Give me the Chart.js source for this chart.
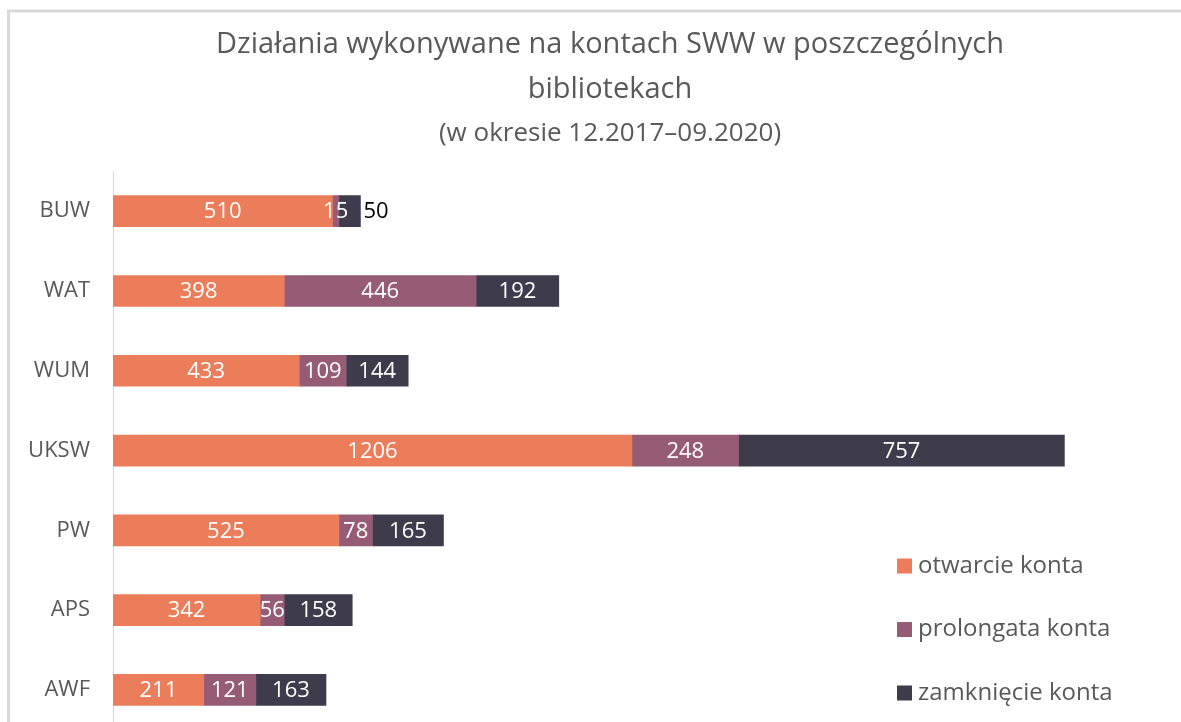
<!DOCTYPE html>
<html>
<head>
<meta charset="utf-8">
<script src="https://cdn.jsdelivr.net/npm/chart.js@4.4.1/dist/chart.umd.min.js"></script>
<style>
  html, body { margin: 0; padding: 0; background: #fff; overflow: hidden; }
  #wrap { width: 1181px; height: 722px; overflow: hidden; position: relative; }
  #c { display: block; width: 1181px; height: 766px; }
</style>
</head>
<body>
<div id="wrap"><canvas id="c" width="1181" height="766"></canvas></div>
<script>
const categories = ["BUW", "WAT", "WUM", "UKSW", "PW", "APS", "AWF"];
const otwarcie = [510, 398, 433, 1206, 525, 342, 211];
const prolongata = [15, 446, 109, 248, 78, 56, 121];
const zamkniecie = [50, 192, 144, 757, 165, 158, 163];
const seriesNames = ["otwarcie konta", "prolongata konta", "zamknięcie konta"];
const seriesColors = ["#EC7D5A", "#965C76", "#3E3B4D"];
const titleLines = ["Działania wykonywane na kontach SWW w poszczególnych", "bibliotekach"];
const subtitleText = "(w okresie 12.2017–09.2020)";

const FONT = "'Open Sans', 'Liberation Sans', sans-serif";

const framePlugin = {
  id: 'frame',
  beforeDraw(chart) {
    const ctx = chart.ctx;
    ctx.save();
    ctx.fillStyle = '#ffffff';
    ctx.fillRect(0, 0, chart.width, chart.height);
    ctx.strokeStyle = '#d9d9d9';
    ctx.lineWidth = 3;
    ctx.beginPath();
    ctx.moveTo(8.5, chart.height);
    ctx.lineTo(8.5, 11);
    ctx.lineTo(chart.width, 11);
    ctx.stroke();
    ctx.restore();
  }
};

const labelPlugin = {
  id: 'barLabels',
  afterDatasetsDraw(chart) {
    const ctx = chart.ctx;
    ctx.save();
    ctx.font = "22px " + FONT;
    ctx.textBaseline = 'middle';
    const last = chart.data.datasets.length - 1;
    chart.data.datasets.forEach((ds, di) => {
      const meta = chart.getDatasetMeta(di);
      meta.data.forEach((el, i) => {
        const v = ds.data[i];
        const txt = String(v);
        if (di === last && v < 60) {
          ctx.fillStyle = '#000000';
          ctx.textAlign = 'left';
          ctx.fillText(txt, el.x + 3, el.y + 1);
        } else {
          ctx.fillStyle = '#ffffff';
          ctx.textAlign = 'center';
          ctx.fillText(txt, (el.x + el.base) / 2, el.y + 1);
        }
      });
    });
    ctx.restore();
  }
};

const legendPlugin = {
  id: 'customLegend',
  afterDraw(chart) {
    const ctx = chart.ctx;
    const o = chart.options.plugins.customLegend;
    ctx.save();
    ctx.font = "24px " + FONT;
    ctx.textBaseline = 'middle';
    ctx.textAlign = 'left';
    chart.data.datasets.forEach((ds, i) => {
      const y = o.y + i * o.gap;
      ctx.fillStyle = ds.backgroundColor;
      ctx.fillRect(o.x, y - 7.5, 15, 15);
      ctx.fillStyle = '#595959';
      ctx.fillText(ds.label, o.x + 21, y);
    });
    ctx.restore();
  }
};

new Chart(document.getElementById('c'), {
  type: 'bar',
  data: {
    labels: categories,
    datasets: [
      { label: seriesNames[0], data: otwarcie, backgroundColor: seriesColors[0] },
      { label: seriesNames[1], data: prolongata, backgroundColor: seriesColors[1] },
      { label: seriesNames[2], data: zamkniecie, backgroundColor: seriesColors[2] }
    ]
  },
  options: {
    indexAxis: 'y',
    responsive: false,
    maintainAspectRatio: false,
    animation: false,
    datasets: { bar: { barThickness: 31, borderWidth: 0 } },
    layout: { padding: { top: 13, left: 10, right: 74, bottom: 10 } },
    scales: {
      x: { stacked: true, display: false, min: 0, max: 2310 },
      y: {
        stacked: true,
        grid: { display: false, drawTicks: false },
        border: { display: true, color: '#d9d9d9', width: 1 },
        ticks: { color: '#595959', font: { family: FONT, size: 22 }, padding: 23 },
        afterFit(scale) { scale.width = 103; }
      }
    },
    plugins: {
      legend: { display: false },
      tooltip: { enabled: false },
      title: {
        display: true,
        fullSize: false,
        text: titleLines,
        color: '#595959',
        font: { family: FONT, size: 29, weight: 'normal', lineHeight: 1.55 },
        padding: { top: 9, bottom: 3 }
      },
      subtitle: {
        display: true,
        fullSize: false,
        text: subtitleText,
        color: '#595959',
        font: { family: FONT, size: 26, weight: 'normal', lineHeight: 1.4 },
        padding: { top: 0, bottom: 20 }
      },
      customLegend: { x: 897, y: 566, gap: 63.5 }
    }
  },
  plugins: [framePlugin, labelPlugin, legendPlugin]
});
</script>
</body>
</html>
